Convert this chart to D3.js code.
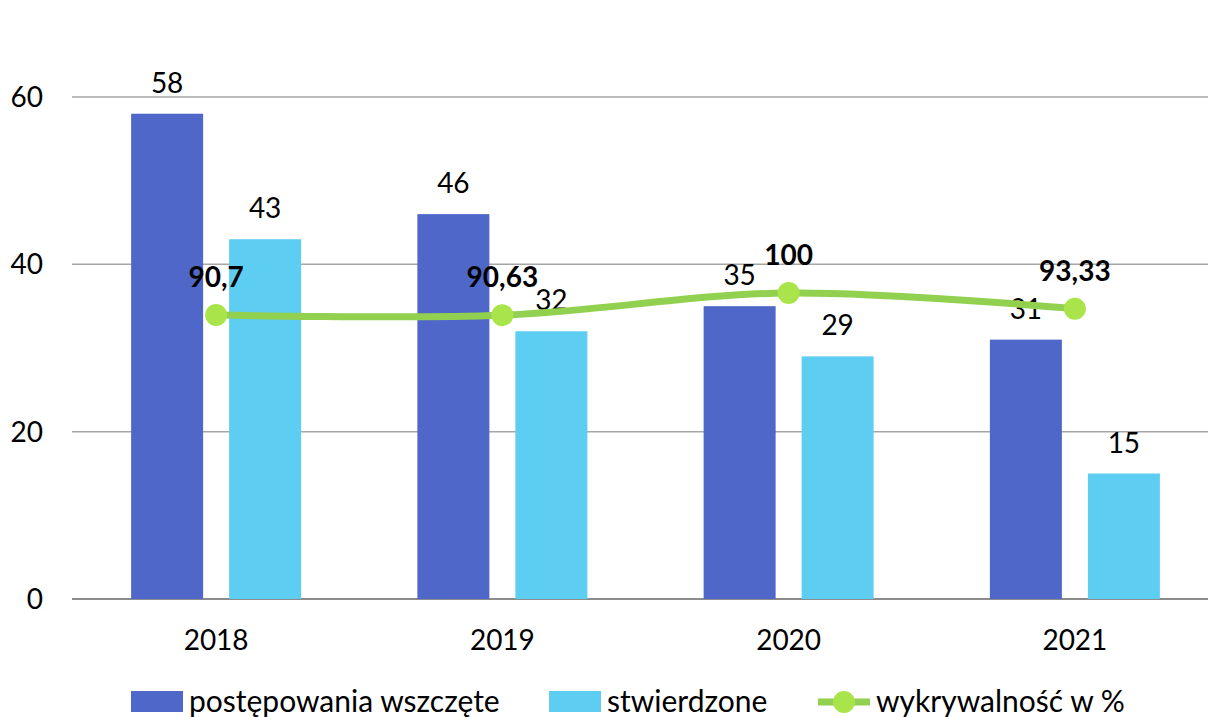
<!DOCTYPE html>
<html>
<head>
<meta charset="utf-8">
<script src="https://cdnjs.cloudflare.com/ajax/libs/d3/7.8.5/d3.min.js"></script>
<style>
body {
    margin: 0;
    background: #fff;
    font-family: Lato, "Open Sans", sans-serif;
}
svg text { fill: #000; }
</style>
</head>
<body>
<svg width="1208" height="717"></svg>
<script>
const years = ["2018", "2019", "2020", "2021"];
const wszczete = [58, 46, 35, 31];
const stwierdzone = [43, 32, 29, 15];
const wykrywalnosc = [90.7, 90.63, 100, 93.33];
const yTicks = [0, 20, 40, 60];
const seriesNames = ["postępowania wszczęte", "stwierdzone", "wykrywalność w %"];

const colDark = "#4f67c8", colLight = "#5ecdf2", colLine = "#92d050", colDot = "#a9e44b";

const plotLeft = 72, plotRight = 1208, plotTop = 97, plotBottom = 599;

const svg = d3.select("svg");

const x = d3.scaleBand().domain(years).range([73, 1218]);
const y = d3.scaleLinear().domain([0, 60]).range([plotBottom, plotTop]);
// hidden secondary axis for the percentage line
const y2 = d3.scaleLinear().domain([-29.3, 182.8]).range([plotBottom, plotTop]);

const barW = 72, gap = 26;

// gridlines + left labels
svg.append("g")
    .selectAll("line")
    .data(yTicks)
    .join("line")
    .attr("x1", plotLeft).attr("x2", plotRight)
    .attr("y1", d => y(d)).attr("y2", d => y(d))
    .attr("stroke", d => d === 0 ? "#8c8c8c" : "#a6a6a6")
    .attr("stroke-width", d => d === 0 ? 2 : 1.5);

svg.append("g")
    .selectAll("text")
    .data(yTicks)
    .join("text")
    .attr("x", 43).attr("y", d => y(d) + 10)
    .attr("text-anchor", "end")
    .style("font-size", "28px")
    .text(d => d);

// bars
const bars = svg.append("g");
function drawBars(values, color, dx) {
    bars.append("g").selectAll("rect")
        .data(values)
        .join("rect")
        .attr("x", (d, i) => x(years[i]) + x.bandwidth() / 2 + dx)
        .attr("y", d => y(d))
        .attr("width", barW)
        .attr("height", d => y(0) - y(d))
        .attr("fill", color);
    bars.append("g").selectAll("text")
        .data(values)
        .join("text")
        .attr("x", (d, i) => x(years[i]) + x.bandwidth() / 2 + dx + barW / 2)
        .attr("y", d => y(d) - 21)
        .attr("text-anchor", "middle")
        .style("font-size", "28px")
        .text(d => d);
}
drawBars(wszczete, colDark, -gap / 2 - barW);
drawBars(stwierdzone, colLight, gap / 2);

// x labels
svg.append("g").selectAll("text")
    .data(years)
    .join("text")
    .attr("x", d => x(d) + x.bandwidth() / 2)
    .attr("y", 650)
    .attr("text-anchor", "middle")
    .style("font-size", "28px")
    .text(d => d);

// line
const line = d3.line()
    .x((d, i) => x(years[i]) + x.bandwidth() / 2)
    .y(d => y2(d))
    .curve(d3.curveCatmullRom.alpha(0.5));

svg.append("path")
    .datum(wykrywalnosc)
    .attr("d", line)
    .attr("fill", "none")
    .attr("stroke", colLine)
    .attr("stroke-width", 7)
    .attr("stroke-linecap", "round");

svg.append("g").selectAll("circle")
    .data(wykrywalnosc)
    .join("circle")
    .attr("cx", (d, i) => x(years[i]) + x.bandwidth() / 2)
    .attr("cy", d => y2(d))
    .attr("r", 11)
    .attr("fill", colDot);

svg.append("g").selectAll("text")
    .data(wykrywalnosc)
    .join("text")
    .attr("x", (d, i) => x(years[i]) + x.bandwidth() / 2)
    .attr("y", d => y2(d) - 28)
    .attr("text-anchor", "middle")
    .style("font-size", "28px")
    .style("font-weight", "bold")
    .text(d => String(d).replace(".", ","));

// legend
const leg = svg.append("g");
const legX = [131, 549, 818];
leg.append("rect").attr("x", legX[0]).attr("y", 691).attr("width", 52).attr("height", 21).attr("fill", colDark);
leg.append("rect").attr("x", legX[1]).attr("y", 691).attr("width", 52).attr("height", 21).attr("fill", colLight);
leg.append("line").attr("x1", legX[2]).attr("x2", legX[2] + 52).attr("y1", 702).attr("y2", 702)
    .attr("stroke", colLine).attr("stroke-width", 7);
leg.append("circle").attr("cx", legX[2] + 26).attr("cy", 702).attr("r", 11).attr("fill", colDot);
leg.selectAll("text.l")
    .data(seriesNames)
    .join("text")
    .attr("class", "l")
    .attr("x", (d, i) => legX[i] + 58)
    .attr("y", 712)
    .style("font-size", "30px")
    .text(d => d);
</script>
</body>
</html>
